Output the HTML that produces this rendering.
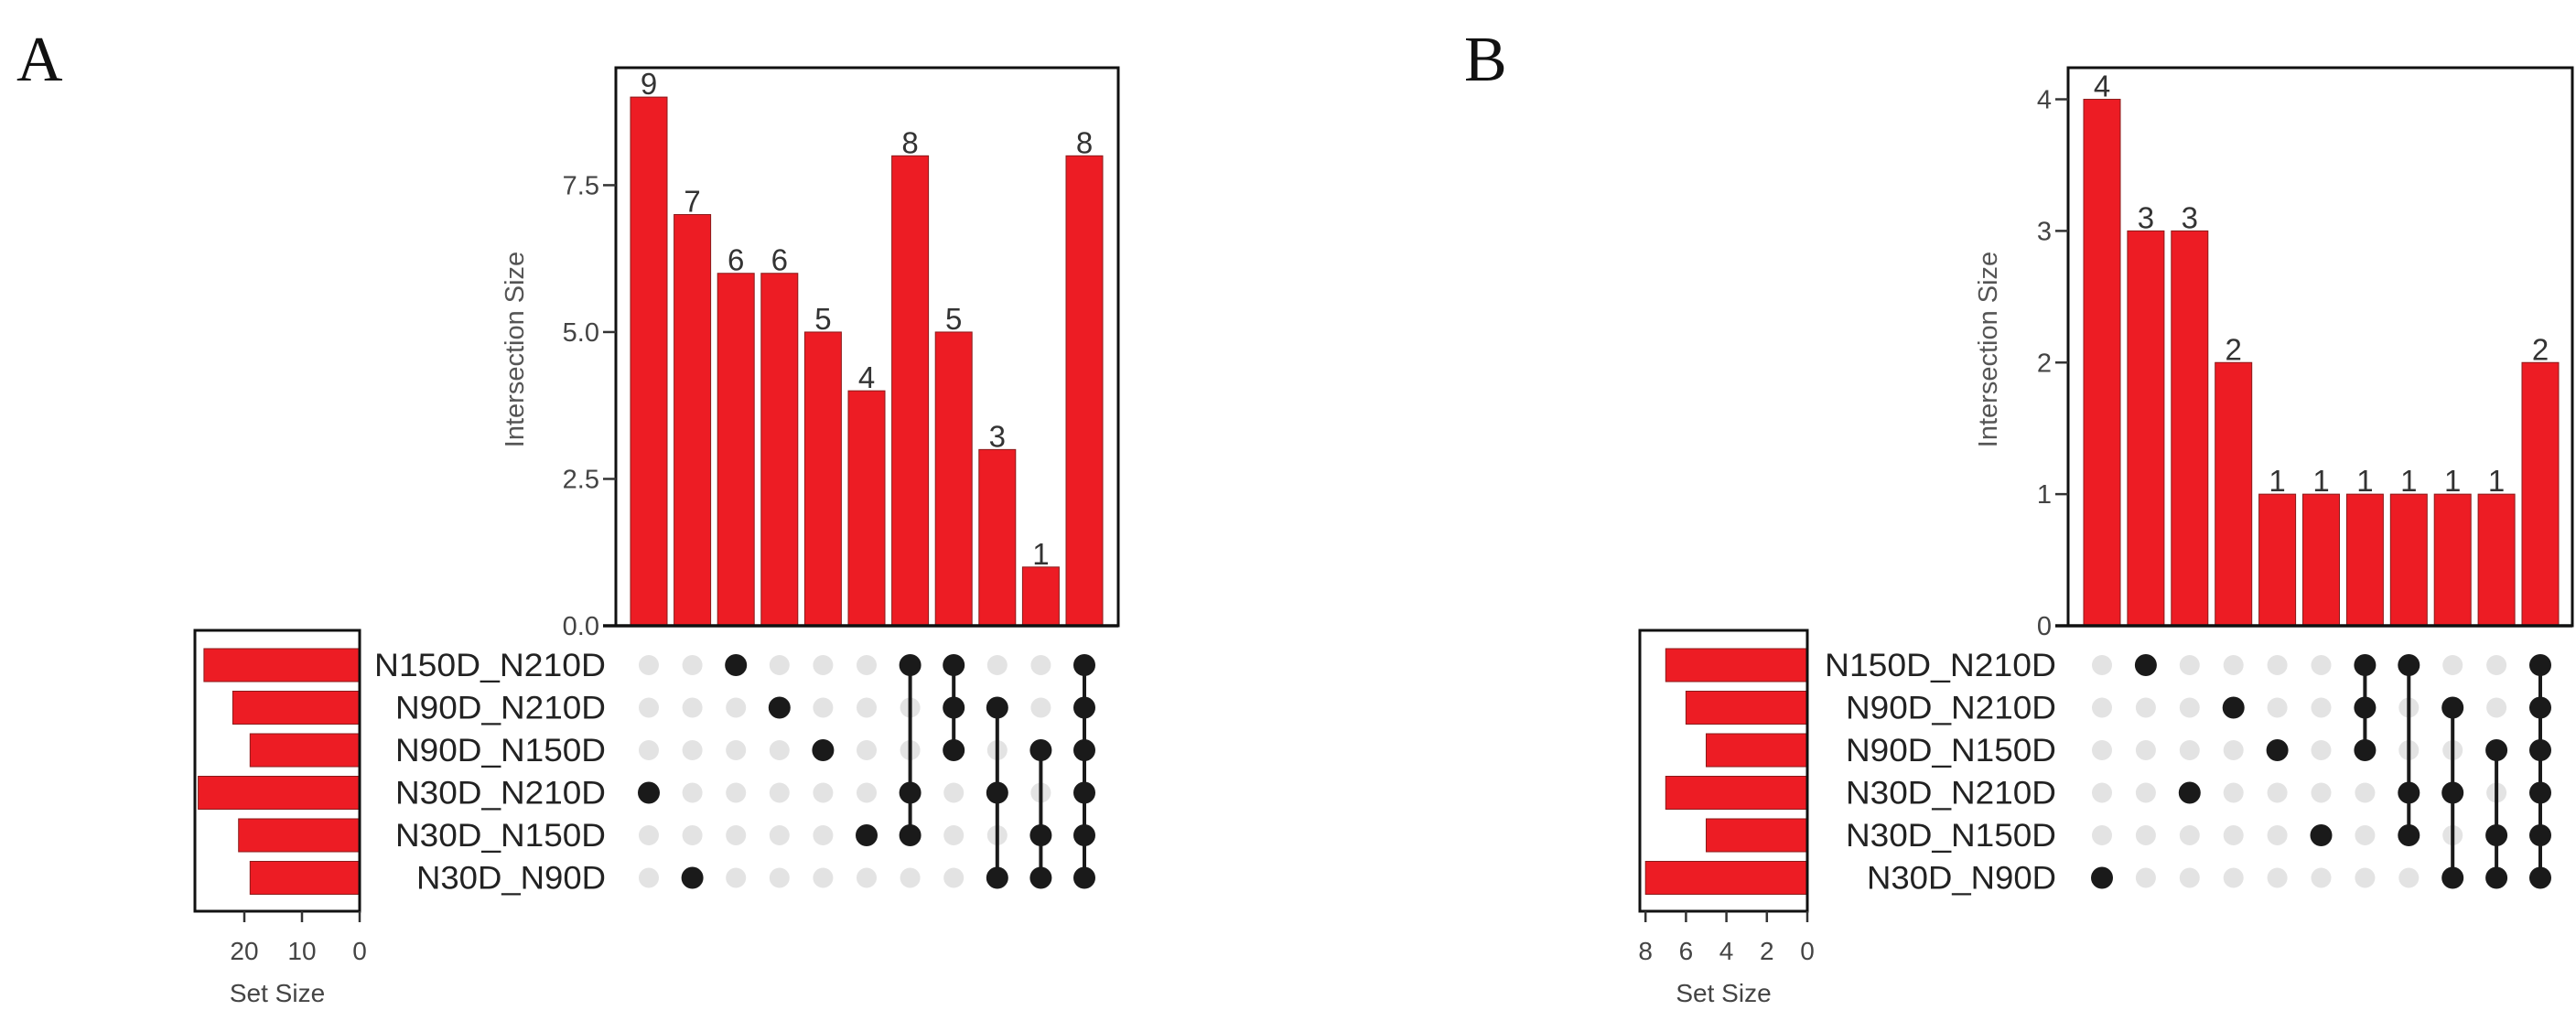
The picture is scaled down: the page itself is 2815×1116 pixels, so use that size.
<!DOCTYPE html>
<html><head><meta charset="utf-8"><style>
html,body{margin:0;padding:0;background:#fff;}
svg{display:block;font-family:"Liberation Sans",Arial,sans-serif;}
</style></head><body>
<svg id="chart" width="2815" height="1116" viewBox="0 0 2815 1116" xmlns="http://www.w3.org/2000/svg">
<text x="18" y="88" font-family="Liberation Serif,serif" font-size="70" fill="#111">A</text>
<text x="1600" y="88" font-family="Liberation Serif,serif" font-size="70" fill="#111">B</text>
</svg>
<script>
const setNames = ["N150D_N210D","N90D_N210D","N90D_N150D","N30D_N210D","N30D_N150D","N30D_N90D"];
const aValues = [9,7,6,6,5,4,8,5,3,1,8];
const aSets = [[3],[5],[0],[1],[2],[4],[0,3,4],[0,1,2],[1,3,5],[2,4,5],[0,1,2,3,4,5]];
const aSetSizes = [27,22,19,28,21,19];
const aYTicks = [0,2.5,5,7.5];
const aYTickLabels = ["0.0","2.5","5.0","7.5"];
const aSizeTicks = [20,10,0];
const bValues = [4,3,3,2,1,1,1,1,1,1,2];
const bSets = [[5],[0],[3],[1],[2],[4],[0,1,2],[0,3,4],[1,3,5],[2,4,5],[0,1,2,3,4,5]];
const bSetSizes = [7,6,5,7,5,8];
const bYTicks = [0,1,2,3,4];
const bYTickLabels = ["0","1","2","3","4"];
const bSizeTicks = [8,6,4,2,0];

const svg = document.getElementById('chart');
const NS = 'http://www.w3.org/2000/svg';
function mk(tag, attrs, parent){
  const e = document.createElementNS(NS, tag);
  for (const k in attrs) e.setAttribute(k, attrs[k]);
  (parent||svg).appendChild(e);
  return e;
}
const rowY = [727,773.5,820,866.5,913,959.5];

function panel(p, values, sets, sizes, yTicks, yLabels, sizeTicks){
  const g = mk('g', {});
  
  
  const y = v => p.y0 - (v / p.ymax) * (p.y0 - p.top);
  const xc = i => p.x1 + i * p.pitch;
  const fr = mk('rect', {x:p.fl, y:p.top, width:p.fr-p.fl, height:p.y0-p.top, fill:'none', stroke:'#111', 'stroke-width':3}, g);
  
  
  yTicks.forEach((t, i) => {
    const tl = mk('line', {x1:p.fl-14, x2:p.fl, y1:y(t), y2:y(t), stroke:'#333', 'stroke-width':2.5}, g);
    
    
    const tx = mk('text', {x:p.fl-18, y:y(t)+10, 'text-anchor':'end', 'font-size':29, fill:'#444'}, g);
    tx.textContent = yLabels[i];
    
    
  });
  const yt = mk('text', {x:p.ytx, y:382, 'text-anchor':'middle', 'font-size':29, fill:'#555', transform:`rotate(-90 ${p.ytx} 382)`}, g);
  yt.textContent = 'Intersection Size';
  
  
  values.forEach((v, i) => {
    const b = mk('rect', {x:xc(i)-20, y:y(v), width:40, height:p.y0-y(v), fill:'#ed1c24', stroke:'#8a1a1a', 'stroke-width':1}, g);
    
    
    const t = mk('text', {x:xc(i), y:y(v)-3, 'text-anchor':'middle', 'font-size':33, fill:'#333'}, g);
    t.textContent = v;
    
    
  });
  mk('line', {x1:p.fl-14, x2:p.fr, y1:p.y0, y2:p.y0, stroke:'#111', 'stroke-width':3.5}, g);
  sets.forEach((s, i) => {
    for (let r = 0; r < 6; r++) {
      if (s.indexOf(r) < 0) {
        const d = mk('circle', {cx:xc(i), cy:rowY[r], r:11, fill:'#e3e3e3'}, g);
        
        
      }
    }
    if (s.length > 1) {
      const mn = Math.min(...s), mx = Math.max(...s);
      const ln = mk('line', {x1:xc(i), x2:xc(i), y1:rowY[mn], y2:rowY[mx], stroke:'#1a1a1a', 'stroke-width':4}, g);
      
      
    }
    s.forEach(r => {
      const d = mk('circle', {cx:xc(i), cy:rowY[r], r:12, fill:'#1a1a1a'}, g);
      
      
    });
  });
  setNames.forEach((n, r) => {
    const t = mk('text', {x:p.labx, y:rowY[r]+12, 'text-anchor':'end', 'font-size':35, fill:'#222', 'textLength':p.labw*n.length/11, lengthAdjust:'spacingAndGlyphs'}, g);
    t.textContent = n;
    
    
  });
  const sx = v => p.sr - v * p.sscale;
  sizes.forEach((v, r) => {
    const b = mk('rect', {x:sx(v), y:rowY[r]-18, width:p.sr-sx(v), height:36, fill:'#ed1c24', stroke:'#8a1a1a', 'stroke-width':1}, g);
    
    
  });
  const sf = mk('rect', {x:p.sl, y:689, width:p.sr-p.sl, height:307, fill:'none', stroke:'#111', 'stroke-width':3}, g);
  
  
  sizeTicks.forEach(t => {
    mk('line', {x1:sx(t), x2:sx(t), y1:996, y2:1008, stroke:'#333', 'stroke-width':2.5}, g);
    const tx = mk('text', {x:sx(t), y:1049, 'text-anchor':'middle', 'font-size':28, fill:'#444'}, g);
    tx.textContent = t;
    
    
  });
  const st = mk('text', {x:(p.sl+p.sr)/2, y:1095, 'text-anchor':'middle', 'font-size':28, fill:'#444'}, g);
  st.textContent = 'Set Size';
  
  
}
panel({name:'a', fl:673, fr:1222, top:74, y0:684, ymax:9.5, x1:709, pitch:47.6, ytx:572, labx:662, labw:253, sl:213, sr:393, sscale:6.3},
  aValues, aSets, aSetSizes, aYTicks, aYTickLabels, aSizeTicks);
panel({name:'b', fl:2260, fr:2811, top:74, y0:684, ymax:4.24, x1:2297, pitch:47.9, ytx:2182, labx:2247, labw:253, sl:1792, sr:1975, sscale:22.1},
  bValues, bSets, bSetSizes, bYTicks, bYTickLabels, bSizeTicks);
</script>
</body></html>
